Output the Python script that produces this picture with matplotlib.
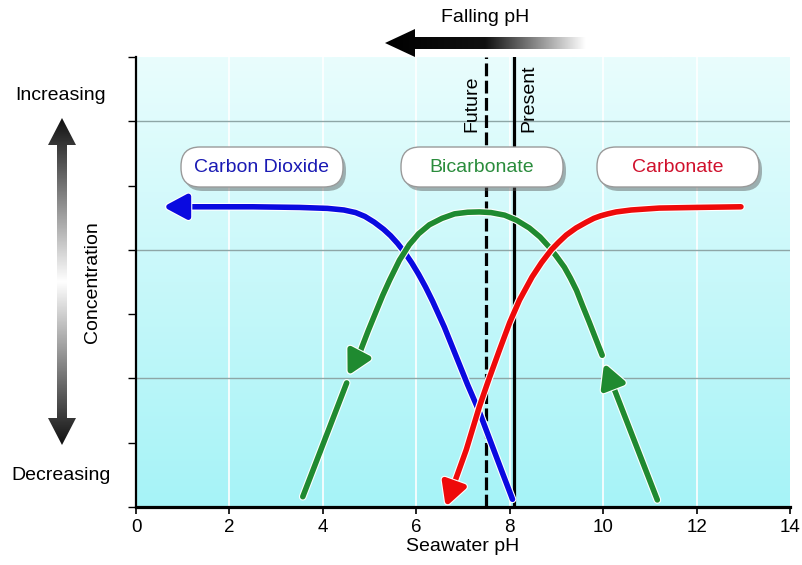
"""Carbonate system species vs seawater pH (schematic)."""
import numpy as np
import matplotlib
matplotlib.use("Agg")
import matplotlib.pyplot as plt
import matplotlib.patheffects as pe
from matplotlib.patches import FancyArrowPatch, FancyBboxPatch, Polygon
from matplotlib.path import Path
from matplotlib.colors import LinearSegmentedColormap

plt.rcParams["font.family"] = ["Liberation Sans", "DejaVu Sans"]

# curve data (pH, relative concentration), in drawing order
co2_ph = [8.06, 7.85, 7.6, 7.35, 7.1, 6.85, 6.6, 6.35, 6.2, 6.05, 5.9, 5.75, 5.6, 5.45,
          5.3, 5.1, 4.9, 4.7, 4.45, 4.1, 3.5, 2.5, 1.5, 0.58]
co2_conc = [0.12, 0.52, 1.0, 1.48, 1.9, 2.35, 2.8, 3.2, 3.42, 3.62, 3.8, 3.96, 4.1, 4.22,
            4.32, 4.43, 4.52, 4.58, 4.62, 4.645, 4.66, 4.67, 4.67, 4.67]

bicarb_top_ph = [9.98, 9.84, 9.70, 9.56, 9.43, 9.30, 9.17, 9.0, 8.85, 8.65, 8.42, 8.15,
                 7.89, 7.6, 7.35, 7.1, 6.82, 6.55, 6.28, 6.05, 5.85, 5.64, 5.43, 5.28,
                 5.15, 4.97, 4.79, 4.53]
bicarb_top_conc = [2.36, 2.62, 2.88, 3.13, 3.37, 3.56, 3.73, 3.90, 4.04, 4.20, 4.34, 4.46,
                   4.54, 4.58, 4.59, 4.585, 4.56, 4.49, 4.39, 4.25, 4.08, 3.84, 3.53, 3.29,
                   3.06, 2.74, 2.40, 2.04]
bicarb_low_ph = [3.57, 4.51]
bicarb_low_conc = [0.16, 1.93]
bicarb_right_ph = [11.16, 10.02]
bicarb_right_conc = [0.11, 2.24]

carb_ph = [12.95, 12.0, 11.2, 10.6, 10.28, 10.1, 9.95, 9.8, 9.64, 9.42, 9.21, 9.05, 8.89,
           8.68, 8.48, 8.21, 8.0, 7.78, 7.55, 7.35, 7.07, 6.63]
carb_conc = [4.67, 4.66, 4.65, 4.62, 4.59, 4.56, 4.53, 4.49, 4.43, 4.34, 4.23, 4.12, 4.0,
             3.80, 3.58, 3.22, 2.87, 2.44, 1.98, 1.56, 0.89, 0.0]

future_ph = 7.5
present_ph = 8.1

species = ["Carbon Dioxide", "Bicarbonate", "Carbonate"]
species_colors = ["#1a1ab4", "#2a8c3c", "#d0102c"]
line_blue = "#0a0ae0"
line_green = "#1f8a30"
line_red = "#ee0a0a"

xticks = [0, 2, 4, 6, 8, 10, 12, 14]
FS = 14

fig = plt.figure(figsize=(8.02, 5.65), dpi=100)
ax = fig.add_axes([136 / 802, 58 / 565, 654 / 802, 450 / 565])

# background gradient
grad = np.linspace(0, 1, 256).reshape(-1, 1)
bg_cmap = LinearSegmentedColormap.from_list("bg", ["#a6f3f7", "#e9fdfd"])
ax.imshow(grad, extent=[0, 14, 0, 7], origin="lower", aspect="auto", cmap=bg_cmap, zorder=0)

ax.set_xlim(0, 14)
ax.set_ylim(0, 7)
for x in xticks[1:-1]:
    ax.axvline(x, color="white", lw=1.2, zorder=1)
for y in [2, 4, 6]:
    ax.axhline(y, color="#8ea6a6", lw=1.0, zorder=1)

outline = [pe.Stroke(linewidth=5.6, foreground="white"), pe.Normal()]
lw = 4.0


def curve(xs, ys, color, arrow):
    verts = np.column_stack([xs, ys])
    if arrow:
        p = FancyArrowPatch(path=Path(verts), arrowstyle="-|>,head_length=14,head_width=7.5",
                            mutation_scale=1, lw=lw, color=color, capstyle="round",
                            joinstyle="round", shrinkA=0, shrinkB=0, zorder=4, clip_on=False)
        p.set_path_effects(outline)
        ax.add_patch(p)
    else:
        ax.plot(xs, ys, color=color, lw=lw, solid_capstyle="round", solid_joinstyle="round",
                zorder=4, path_effects=outline)


ax.axvline(future_ph, color="black", lw=2.3, ls=(0, (4, 1.4)), zorder=3)
ax.axvline(present_ph, color="black", lw=2.3, zorder=3)

curve(co2_ph, co2_conc, line_blue, True)
curve(bicarb_top_ph, bicarb_top_conc, line_green, True)
curve(bicarb_low_ph, bicarb_low_conc, line_green, False)
curve(bicarb_right_ph, bicarb_right_conc, line_green, True)
curve(carb_ph, carb_conc, line_red, True)

ax.text(7.2, 5.83, "Future", rotation=90, ha="center", va="bottom", fontsize=FS, zorder=5)
ax.text(8.42, 5.83, "Present", rotation=90, ha="center", va="bottom", fontsize=FS, zorder=5)

for s in ["top", "right"]:
    ax.spines[s].set_visible(False)
ax.spines["left"].set_linewidth(1.6)
ax.spines["bottom"].set_linewidth(2.3)
ax.spines["left"].set_zorder(6)
ax.spines["bottom"].set_zorder(6)
ax.set_xticks(xticks)
ax.set_xticklabels([str(t) for t in xticks])
ax.set_yticks(range(8))
ax.set_yticklabels([])
ax.tick_params(axis="x", length=5, width=1.2, labelsize=13.5, pad=4)
ax.tick_params(axis="y", length=6, width=1.0)
ax.set_xlabel("Seawater pH", fontsize=FS, labelpad=1)

# decoration layer in pixel coordinates
deco = fig.add_axes([0, 0, 1, 1], zorder=10)
deco.patch.set_alpha(0)
deco.axis("off")

# species label pills
for name, col, cx in zip(species, species_colors, [262, 482, 678]):
    w, h = 162, 40
    shadow = FancyBboxPatch((cx - w / 2 + 3, 147 + 4), w, h,
                            boxstyle="round,pad=0,rounding_size=19",
                            fc="#555555", ec="none", alpha=0.45)
    box = FancyBboxPatch((cx - w / 2, 147), w, h, boxstyle="round,pad=0,rounding_size=19",
                         fc="white", ec="#9a9a9a", lw=1.0)
    deco.add_patch(shadow)
    deco.add_patch(box)
    deco.text(cx, 168, name, color=col, fontsize=FS, ha="center", va="center")

# falling pH arrow (fades to the right)
harrow = Polygon([(385, 43), (415, 29), (415, 37), (586, 37), (586, 49), (415, 49), (415, 57)],
                 closed=True, fc="none", ec="none")
deco.add_patch(harrow)
hcmap = LinearSegmentedColormap.from_list("h", ["#000000", "#111111", "#ffffff"])
im = deco.imshow(np.linspace(0, 1, 256).reshape(1, -1), extent=[385, 586, 57, 29],
                 cmap=hcmap, aspect="auto")
im.set_clip_path(harrow)
deco.text(485, 18, "Falling pH", fontsize=FS, ha="center", va="center")

# concentration double arrow (dark ends, white middle)
varrow = Polygon([(62, 118), (76, 145), (67, 145), (67, 418), (76, 418), (62, 445),
                  (48, 418), (57, 418), (57, 145), (48, 145)],
                 closed=True, fc="none", ec="none")
deco.add_patch(varrow)
vcmap = LinearSegmentedColormap.from_list("v", ["#111111", "#ffffff", "#111111"])
im2 = deco.imshow(np.linspace(0, 1, 256).reshape(-1, 1), extent=[48, 76, 445, 118],
                  cmap=vcmap, aspect="auto")
im2.set_clip_path(varrow)
deco.text(61, 96, "Increasing", fontsize=FS, ha="center", va="center")
deco.text(61, 475, "Decreasing", fontsize=FS, ha="center", va="center")
deco.text(93, 282, "Concentration", fontsize=FS, rotation=90, ha="center", va="center")

deco.set_xlim(0, 802)
deco.set_ylim(565, 0)

fig.savefig("out.png", dpi=100)
